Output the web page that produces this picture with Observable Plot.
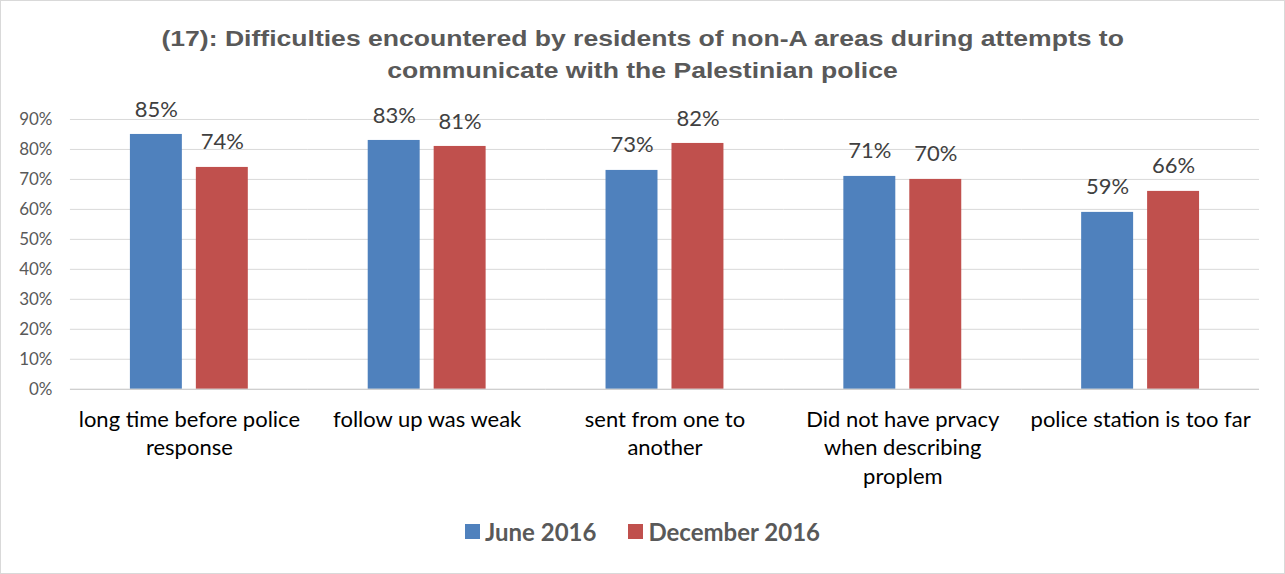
<!DOCTYPE html>
<html>
<head>
<meta charset="utf-8">
<script src="https://cdn.jsdelivr.net/npm/d3@7"></script>
<script src="https://cdn.jsdelivr.net/npm/@observablehq/plot@0.6"></script>
<style>
  html, body { margin: 0; padding: 0; background: #fff; }
  #chart { position: relative; width: 1285px; height: 574px; box-sizing: border-box; border: 1px solid #d9d9d9; overflow: hidden; }
  #title { position: absolute; left: 0; right: 0; top: 22px; text-align: center; font-family: "Liberation Sans", Arial, sans-serif; font-weight: bold; font-size: 22px; line-height: 32px; color: #595959; z-index: 2; }
  #title span { display: inline-block; transform: scaleX(1.207); transform-origin: center; white-space: nowrap; }
  #plot { position: absolute; left: -1px; top: 69px; z-index: 1; }
  #legend { position: absolute; left: 0; right: 0; top: 516px; display: flex; justify-content: center; gap: 32px; font-family: Lato, sans-serif; font-weight: bold; font-size: 24px; color: #595959; }
  .item { display: flex; align-items: center; gap: 5px; }
  .sw { width: 15px; height: 15px; display: inline-block; }
</style>
</head>
<body>
<div id="chart">
  <div id="title"><span>(17): Difficulties encountered by residents of non-A areas during attempts to</span><br><span>communicate with the Palestinian police</span></div>
  <div id="plot"></div>
  <div id="legend"></div>
</div>
<script>
const categories = ["long time before police response", "follow up was weak", "sent from one to another", "Did not have prvacy when describing proplem", "police station is too far"];
const categoryLabels = ["long time before police\nresponse", "follow up was weak", "sent from one to\nanother", "Did not have prvacy\nwhen describing\nproplem", "police station is too far"];
const seriesNames = ["June 2016", "December 2016"];
const june2016 = [0.85, 0.83, 0.73, 0.71, 0.59];
const december2016 = [0.74, 0.81, 0.82, 0.70, 0.66];
const yTicks = [0, 0.1, 0.2, 0.3, 0.4, 0.5, 0.6, 0.7, 0.8, 0.9];
const seriesColors = ["#4f81bd", "#c0504d"];

const data = categories.flatMap((c, i) => [
  {category: c, series: seriesNames[0], value: june2016[i]},
  {category: c, series: seriesNames[1], value: december2016[i]}
]);
const pct = d3.format(".0%");
const labelOf = new Map(categories.map((c, i) => [c, categoryLabels[i]]));

const chart = Plot.plot({
  width: 1285,
  height: 440,
  marginTop: 49,
  marginBottom: 121,
  marginLeft: 70,
  marginRight: 25,
  style: {fontFamily: "Lato, sans-serif", background: "transparent", overflow: "visible"},
  fx: {domain: categories, padding: 0, label: null, axis: null},
  x: {domain: seriesNames, paddingInner: 0.209, paddingOuter: 0.895, axis: null},
  y: {domain: [0, 0.9], axis: null},
  color: {domain: seriesNames, range: seriesColors},
  marks: [
    Plot.ruleY(yTicks.slice(1), {stroke: "#d9d9d9", strokeWidth: 1}),
    Plot.axisY({ticks: yTicks, tickFormat: pct, tickSize: 0, tickPadding: 18, fontSize: 17, color: "#595959", label: null}),
    Plot.barY(data, {fx: "category", x: "series", y: "value", fill: "series"}),
    Plot.ruleY([0], {stroke: "#bfbfbf", strokeWidth: 1}),
    Plot.text(data, {fx: "category", x: "series", y: "value", text: d => pct(d.value), dy: -25, fontSize: 22, fill: "#404040"}),
    Plot.axisFx({anchor: "bottom", tickSize: 0, tickPadding: 17, tickFormat: c => labelOf.get(c), fontSize: 22, lineHeight: 1.3, color: "#000", label: null})
  ]
});
document.getElementById("plot").appendChild(chart);

const legend = document.getElementById("legend");
seriesNames.forEach((s, i) => {
  const item = document.createElement("div");
  item.className = "item";
  const sw = document.createElement("span");
  sw.className = "sw";
  sw.style.background = seriesColors[i];
  const t = document.createElement("span");
  t.textContent = s;
  item.appendChild(sw);
  item.appendChild(t);
  legend.appendChild(item);
});
</script>
</body>
</html>
